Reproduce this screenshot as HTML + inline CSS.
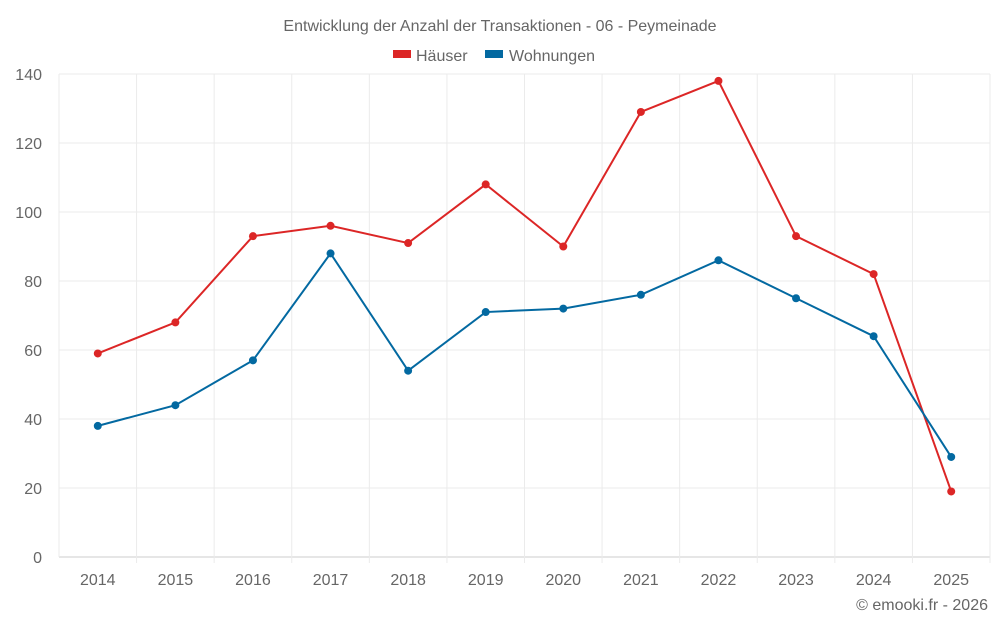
<!DOCTYPE html>
<html><head><meta charset="utf-8"><style>
body{margin:0;background:#fff;font-family:"Liberation Sans",sans-serif}
svg text{font-family:"Liberation Sans",sans-serif;fill:#666}
</style></head><body>
<svg id="chart" width="1000" height="625">
<text x="500" y="31" text-anchor="middle" font-size="16">Entwicklung der Anzahl der Transaktionen - 06 - Peymeinade</text>
<g>
<g><rect x="393" y="50" width="18" height="8" fill="#dc2626"/><text x="416" y="61" font-size="16">Häuser</text></g>
<g><rect x="485" y="50" width="18" height="8" fill="#0369a1"/><text x="509" y="61" font-size="16">Wohnungen</text></g>
</g>
<g id="grid"></g><g id="axes"></g><g id="series"></g>
<text x="988" y="610" text-anchor="end" font-size="16">© emooki.fr - 2026</text>
</svg>
<script>
const years=["2014","2015","2016","2017","2018","2019","2020","2021","2022","2023","2024","2025"];
const haeuser=[59,68,93,96,91,108,90,129,138,93,82,19];
const wohnungen=[38,44,57,88,54,71,72,76,86,75,64,29];
const yTicks=[0,20,40,60,80,100,120,140];
const L=59,R=990,T=74,B=557,ymax=140;
const bw=(R-L)/years.length;
const x=i=>L+bw*(i+0.5);
const y=v=>B-(v/ymax)*(B-T);
const NS="http://www.w3.org/2000/svg";
function mk(t,a,p){const e=document.createElementNS(NS,t);for(const k in a)e.setAttribute(k,a[k]);p.appendChild(e);return e;}
const g=document.getElementById('grid'),ax=document.getElementById('axes'),s=document.getElementById('series');
yTicks.forEach(v=>{
 const l=mk('line',{x1:L,x2:R,y1:y(v),y2:y(v),stroke:v===0?'#ccc':'#ebebeb'},g);
 
 
 const t=mk('text',{x:42,y:y(v)+6,'text-anchor':'end','font-size':16},ax);t.textContent=v;
 
 
});
for(let i=0;i<=years.length;i++){
 const l=mk('line',{x1:L+bw*i,x2:L+bw*i,y1:T,y2:B+(i===0?0:6),stroke:'#ebebeb'},g);
 
 
}
years.forEach((yr,i)=>{
 const t=mk('text',{x:x(i),y:585,'text-anchor':'middle','font-size':16},ax);t.textContent=yr;
 
 
});
function series(data,color,name){
 const p=mk('polyline',{points:data.map((v,i)=>x(i)+','+y(v)).join(' '),fill:'none',stroke:color,'stroke-width':2},s);
 
 
 data.forEach((v,i)=>{
  const c=mk('circle',{cx:x(i),cy:y(v),r:4,fill:color},s);
  
  
 });
}
series(haeuser,'#dc2626','haeuser');
series(wohnungen,'#0369a1','wohnungen');
</script>
</body></html>
